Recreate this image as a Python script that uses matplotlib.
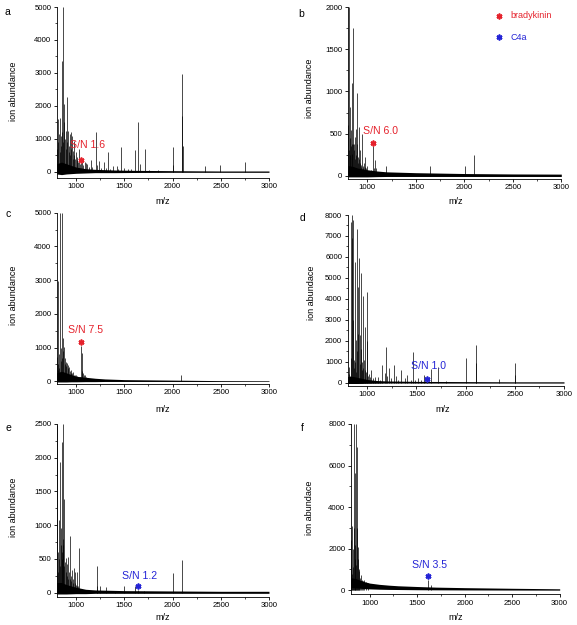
import matplotlib
matplotlib.use("Agg")
import matplotlib.pyplot as plt
from matplotlib.ticker import MultipleLocator

plt.rcParams['font.family'] = ['Liberation Sans', 'DejaVu Sans']

W, H = 577, 625
RED = '#e5222c'
BLUE = '#2424d6'

# ---------------- data (m/z, intensity) ----------------
# panel a
a_peak_mz = [805, 812, 818, 824, 830, 836, 842, 848, 852, 858, 864, 869, 874, 880, 886, 892, 898, 905,
             911, 917, 923, 929, 935, 941, 947, 953, 958, 964, 970, 976, 984, 990, 998, 1006, 1015, 1024,
             1030, 1040, 1052, 1062, 1075, 1090, 1103, 1115, 1130, 1152, 1170, 1203, 1215, 1241, 1260,
             1286, 1310, 1334, 1355, 1383, 1420, 1440, 1462, 1500, 1540, 1575, 1607, 1645, 1660, 1717,
             1760, 1850, 2000, 2010, 2100, 2103, 2106, 2341, 2496, 2755]
a_peak_int = [700, 1600, 900, 1150, 1650, 600, 1100, 800, 3350, 1200, 900, 5000, 1500, 2050, 1000, 700,
              1250, 2280, 900, 1250, 600, 800, 1150, 500, 1200, 700, 1100, 400, 650, 500, 950, 400, 600,
              350, 450, 300, 700, 250, 260, 300, 200, 300, 280, 250, 150, 360, 150, 1220, 200, 330, 120,
              300, 120, 620, 100, 180, 190, 100, 770, 120, 100, 80, 670, 1520, 250, 700, 60, 60, 770,
              200, 1700, 2975, 800, 190, 220, 290]
a_base_mz = [800, 850, 900, 950, 1000, 1100, 1200, 1400, 1600, 2000, 2500, 3000]
a_base_hi = [250, 300, 250, 200, 150, 100, 80, 60, 50, 40, 30, 30]
a_base_lo = [-60, -80, -60, -50, -40, -30, -20, -20, -15, -10, -10, -10]

# panel b
b_peak_mz = [805, 808, 812, 817, 821, 826, 830, 835, 839, 842, 847, 852, 856, 861, 866, 871, 876, 882,
             888, 893, 897, 903, 908, 912, 918, 923, 928, 934, 940, 945, 952, 958, 965, 972, 980, 988,
             997, 1010, 1025, 1040, 1058, 1065, 1076, 1093, 1120, 1196, 1250, 1300, 1646, 2003, 2100]
b_peak_int = [600, 2000, 300, 450, 820, 250, 540, 350, 260, 1100, 370, 380, 1750, 300, 380, 200, 460,
              560, 250, 380, 980, 220, 150, 580, 200, 150, 305, 130, 100, 500, 120, 90, 150, 100, 225,
              90, 120, 60, 60, 70, 357, 90, 186, 90, 40, 110, 30, 30, 115, 120, 245]
b_base_mz = [800, 850, 900, 1000, 1100, 1200, 1500, 2000, 2500, 3000]
b_base_hi = [120, 110, 90, 70, 55, 45, 35, 25, 20, 18]
b_base_lo = [-15, -15, -15, -15, -12, -10, -10, -10, -10, -10]

# panel c
c_peak_mz = [805, 810, 812, 817, 822, 827, 836, 840, 846, 851, 857, 862, 868, 876, 882, 888, 893, 900,
             906, 913, 920, 928, 935, 945, 952, 960, 972, 980, 990, 1000, 1010, 1020, 1041, 1052, 1058,
             1065, 1075, 1085, 1093, 1100, 1120, 1150, 1180, 2093]
c_peak_int = [730, 350, 2970, 500, 800, 400, 5000, 600, 980, 700, 5000, 900, 1280, 1030, 500, 700, 585,
              450, 535, 400, 480, 437, 300, 337, 250, 260, 290, 200, 180, 200, 150, 120, 140, 1050, 300,
              830, 250, 200, 190, 120, 100, 80, 80, 190]
c_base_mz = [800, 850, 900, 950, 1000, 1100, 1200, 1300, 1500, 2000, 2500, 3000]
c_base_hi = [250, 300, 250, 200, 150, 120, 90, 70, 50, 35, 20, 15]
c_base_lo = [-20, -20, -20, -15, -15, -10, -10, -5, -5, -5, -5, -5]

# panel d
d_peak_mz = [810, 815, 822, 830, 837, 842, 847, 852, 857, 862, 866, 871, 876, 881, 887, 893, 898, 905,
             910, 915, 922, 928, 933, 939, 945, 950, 956, 961, 966, 973, 980, 986, 993, 1000, 1006,
             1015, 1025, 1041, 1060, 1081, 1108, 1130, 1153, 1176, 1193, 1205, 1220, 1245, 1271, 1295,
             1315, 1339, 1380, 1407, 1440, 1468, 1490, 1515, 1545, 1573, 1610, 1651, 1719, 1800, 2000,
             2102, 2106, 2342, 2498, 2502]
d_peak_int = [400, 760, 300, 1200, 7680, 6900, 8000, 3000, 7760, 1100, 700, 5770, 1000, 2035, 500, 1500,
              7330, 4580, 2300, 5930, 2270, 900, 1600, 5210, 600, 1000, 4130, 700, 1080, 600, 2670, 500,
              1990, 4340, 300, 400, 250, 600, 200, 290, 290, 150, 840, 440, 1720, 300, 680, 200, 840,
              320, 150, 600, 200, 350, 150, 1460, 150, 200, 150, 350, 200, 640, 760, 60, 1190, 1800,
              950, 190, 920, 350]
d_base_mz = [800, 850, 900, 1000, 1100, 1200, 1500, 2000, 2500, 3000]
d_base_hi = [300, 300, 250, 150, 100, 80, 60, 50, 40, 40]
d_base_lo = [-40, -40, -40, -30, -30, -20, -20, -20, -20, -20]

# panel e
e_peak_mz = [805, 810, 815, 821, 826, 831, 836, 840, 845, 850, 855, 859, 863, 866, 870, 876, 880, 886,
             893, 898, 903, 909, 914, 920, 926, 934, 941, 948, 953, 959, 966, 972, 979, 986, 993, 1000,
             1008, 1014, 1020, 1034, 1045, 1060, 1100, 1214, 1220, 1248, 1307, 1400, 1497, 1610, 1639,
             1700, 2007, 2103]
e_peak_int = [2480, 600, 300, 1080, 500, 1930, 400, 700, 955, 500, 600, 2240, 800, 2500, 700, 1390, 400,
              450, 520, 300, 420, 250, 530, 200, 300, 200, 840, 180, 250, 336, 150, 200, 360, 150, 310,
              120, 100, 300, 100, 667, 60, 50, 40, 395, 100, 104, 80, 30, 100, 104, 40, 30, 296, 485]
e_base_mz = [800, 850, 900, 1000, 1100, 1200, 1500, 2000, 2500, 3000]
e_base_hi = [150, 150, 120, 80, 50, 40, 30, 25, 20, 20]
e_base_lo = [-20, -20, -20, -15, -15, -10, -10, -10, -10, -10]

# panel f
f_peak_mz = [800, 805, 811, 816, 821, 827, 832, 837, 842, 846, 849, 855, 860, 864, 870, 874, 877, 883,
             888, 895, 905, 915, 925, 940, 960, 980, 1617, 1640]
f_peak_int = [2400, 1200, 3080, 800, 1120, 2000, 8000, 3000, 5620, 1500, 2170, 1200, 8000, 3000, 6900,
              1500, 2090, 900, 1040, 600, 720, 500, 450, 480, 400, 350, 510, 250]
f_base_mz = [800, 850, 900, 950, 1000, 1100, 1200, 1300, 1500, 1700, 2000, 2500, 3000]
f_base_hi = [600, 560, 480, 400, 340, 280, 240, 210, 175, 145, 120, 90, 65]
f_base_lo = [120, 110, 90, 70, 60, 45, 35, 30, 20, 15, 10, 5, 0]

# annotations (label, colour, star m/z, star intensity, text m/z, text intensity)
a_note = ('S/N 1.6', RED, 1052, 364, 1121, 818)
b_note = ('S/N 6.0', RED, 1062, 392, 1136, 531)
c_note = ('S/N 7.5', RED, 1052, 1175, 1098, 1521)
d_note = ('S/N 1.0', BLUE, 1610, 176, 1622, 796)
e_note = ('S/N 1.2', BLUE, 1639, 99, 1656, 252)
f_note = ('S/N 3.5', BLUE, 1617, 675, 1629, 1205)

panel_letters = ['a', 'b', 'c', 'd', 'e', 'f']
y_labels = ['ion abundance', 'ion abundance', 'ion abundance', 'ion abundace', 'ion abundance', 'ion abundace']
x_label = 'm/z'
y_maxes = [5000, 2000, 5000, 8000, 2500, 8000]
y_steps = [1000, 500, 1000, 1000, 500, 2000]
x_ticks = [1000, 1500, 2000, 2500, 3000]
legend_labels = ['bradykinin', 'C4a']

# ---------------- layout (pixel boxes) ----------------
boxes = [  # left, right, top, bottom (px), ymin
    (56.7, 269.0, 7.0, 177.7, -173),
    (347.9, 561.3, 7.3, 179.0, -40),
    (56.7, 269.0, 212.7, 384.0, -80),
    (347.6, 564.0, 215.0, 386.0, -160),
    (56.7, 269.0, 424.0, 596.7, -60),
    (350.7, 559.7, 424.0, 594.3, -200),
]
letter_pos = [(7, 12), (301, 14), (8, 214), (303, 218), (8, 428), (302, 428)]
ylabel_pos = [(14, 91), (309, 88), (14, 295), (312, 293), (14, 507), (310, 508)]
xlabel_pos = [(163, 202), (456, 202), (163, 409), (443, 409), (163, 617), (456, 617)]

data = [
    (a_peak_mz, a_peak_int, a_base_mz, a_base_lo, a_base_hi, a_note),
    (b_peak_mz, b_peak_int, b_base_mz, b_base_lo, b_base_hi, b_note),
    (c_peak_mz, c_peak_int, c_base_mz, c_base_lo, c_base_hi, c_note),
    (d_peak_mz, d_peak_int, d_base_mz, d_base_lo, d_base_hi, d_note),
    (e_peak_mz, e_peak_int, e_base_mz, e_base_lo, e_base_hi, e_note),
    (f_peak_mz, f_peak_int, f_base_mz, f_base_lo, f_base_hi, f_note),
]

STAR = (6, 2, 0)

fig = plt.figure(figsize=(W / 100, H / 100), dpi=100)

def fx(px):
    return px / W

def fy(py):
    return 1 - py / H

axes = []
for i, (box, d) in enumerate(zip(boxes, data)):
    l, r, t, b, ymin = box
    ax = fig.add_axes([fx(l), fy(b), fx(r) - fx(l), fy(t) - fy(b)])
    axes.append(ax)
    pmz, pint, bmz, blo, bhi, note = d
    ax.fill_between(bmz, blo, bhi, color='black', lw=0)
    ax.vlines(pmz, 0, pint, color='black', lw=0.5)
    ax.set_xlim(800, 3000)
    ax.set_ylim(ymin, y_maxes[i])
    ax.set_xticks(x_ticks)
    ax.xaxis.set_minor_locator(MultipleLocator(250))
    ax.yaxis.set_major_locator(MultipleLocator(y_steps[i]))
    ax.yaxis.set_minor_locator(MultipleLocator(y_steps[i] / 2))
    ax.set_yticks([v for v in range(0, y_maxes[i] + 1, y_steps[i])])
    for s in ['top', 'right']:
        ax.spines[s].set_visible(False)
    for s in ['left', 'bottom']:
        ax.spines[s].set_linewidth(0.6)
    ax.tick_params(which='major', direction='out', length=2.4, width=0.6, labelsize=5.6, pad=1.5,
                   colors='black')
    ax.tick_params(which='minor', direction='out', length=1.4, width=0.5)
    ax.patch.set_alpha(0)
    label, col, smz, sint, tmz, tint = note
    ax.plot([smz], [sint], marker=STAR, color=col, markersize=4.2, mew=1.2, ls='none')
    ax.text(tmz, tint, label, color=col, fontsize=7.6, ha='center', va='center')

    lx, ly = letter_pos[i]
    fig.text(fx(lx), fy(ly), panel_letters[i], fontsize=7.5, ha='center', va='center')
    yx, yy = ylabel_pos[i]
    fig.text(fx(yx), fy(yy), y_labels[i], fontsize=6.5, rotation=90, ha='center', va='center')
    xx, xy = xlabel_pos[i]
    fig.text(fx(xx), fy(xy), x_label, fontsize=6.5, ha='center', va='center')

# legend in panel b
for (py, col, lab) in [(16, RED, legend_labels[0]), (37, BLUE, legend_labels[1])]:
    fig.lines.append(plt.Line2D([fx(499)], [fy(py)], marker=STAR, color=col, markersize=4.2, mew=1.2,
                                ls='none', transform=fig.transFigure))
    fig.text(fx(510.7), fy(py), lab, color=col, fontsize=6.5, ha='left', va='center')

fig.savefig('out.png', dpi=100)
